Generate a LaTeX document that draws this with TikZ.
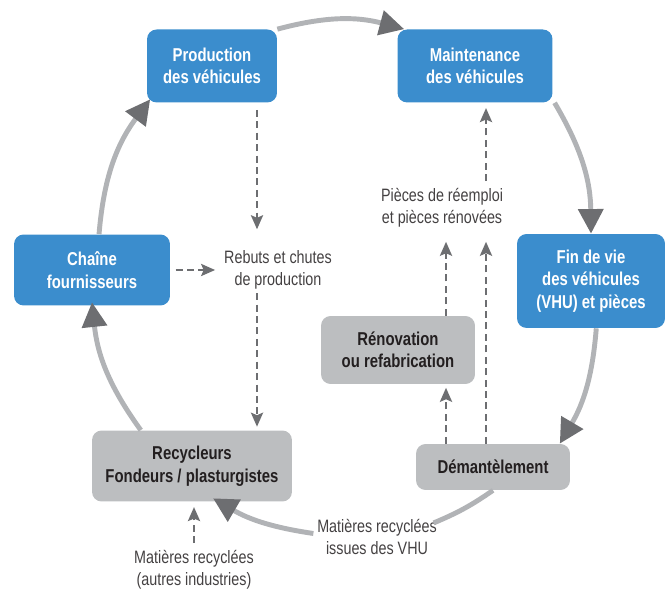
\documentclass[tikz,border=0pt]{standalone}
\usepackage{fontspec}
\setmainfont{Liberation Sans}[FakeStretch=0.8]
\usetikzlibrary{arrows.meta}

\definecolor{vhublue}{HTML}{3B8DCD}
\definecolor{vhugray}{HTML}{BCBEC0}
\definecolor{ringgray}{HTML}{B1B3B6}
\definecolor{tipgray}{HTML}{6D6E71}
\definecolor{inkdark}{HTML}{231F20}

\begin{document}
\begin{tikzpicture}[
    x=0.02cm, y=-0.02cm,
    bluebox/.style={rectangle, fill=vhublue, rounded corners=5.5pt, align=center, text=white, font=\bfseries\fontsize{10.6}{12.8}\selectfont, inner sep=0pt},
    graybox/.style={rectangle, fill=vhugray, rounded corners=5.5pt, align=center, text=inkdark, font=\bfseries\fontsize{10.6}{12.8}\selectfont, inner sep=0pt},
    note/.style={align=center, text=inkdark!85, font=\fontsize{10.2}{12.5}\selectfont, inner sep=2pt},
    cycle/.style={draw=ringgray, line width=2.8pt, -{Triangle[length=14pt, width=14pt, color=tipgray]}},
    ring/.style={draw=ringgray, line width=2.8pt},
    dasharrow/.style={draw=tipgray, line width=0.8pt, dash pattern=on 4pt off 2.5pt, -{Stealth[length=8pt, width=7pt, inset=1.5pt, color=tipgray]}}
]
\useasboundingbox (0,0) rectangle (665,590);

% Boxes on the cycle
\node[bluebox, minimum width=2.6cm, minimum height=1.46cm] (prod) at (212,66) {Production\\des véhicules};
\node[bluebox, minimum width=3.1cm, minimum height=1.46cm] (maint) at (475,66) {Maintenance\\des véhicules};
\node[bluebox, minimum width=2.96cm, minimum height=1.88cm] (fin) at (591,281) {Fin de vie\\des véhicules\\(VHU) et pièces};
\node[graybox, minimum width=3.08cm, minimum height=0.92cm] (demant) at (493,467) {Démantèlement};
\node[graybox, minimum width=4.0cm, minimum height=1.42cm] (recy) at (192,466) {Recycleurs\\Fondeurs / plasturgistes};
\node[bluebox, minimum width=3.12cm, minimum height=1.42cm] (chaine) at (92,270) {Chaîne\\fournisseurs};

% Inner box and texts
\node[graybox, minimum width=3.08cm, minimum height=1.36cm] (renov) at (398,350) {Rénovation\\ou refabrication};
\node[note] (rebuts) at (278,270) {Rebuts et chutes\\de production};
\node[note] (pieces) at (442,208) {Pièces de réemploi\\et pièces rénovées};
\node[note] (vhu) at (377,537) {Matières recyclées\\issues des VHU};
\node[note] (autres) at (194,570) {Matières recyclées\\(autres industries)};

\coordinate (colA) at (257,0);
\coordinate (colL) at (446,0);
\coordinate (colR) at (486,0);

% Cycle
\draw[cycle] (prod.north east) to[bend left=15] ([xshift=4pt]maint.north west);
\draw[cycle] ([xshift=1pt]maint.south east) to[bend left=15] (fin.north);
\draw[cycle] ([xshift=3pt]fin.south) to[bend left=13] ([xshift=-6pt]demant.north east);
\draw[ring] (demant.south) to[bend left=6] ([xshift=-4pt, yshift=8pt]vhu.east);
\draw[cycle] ([yshift=2pt]vhu.west) to[bend left=11] ([xshift=12pt, yshift=2pt]recy.south);
\draw[cycle] (recy.145) to[bend left=15] ([yshift=2pt]chaine.south);
\draw[cycle] ([xshift=4pt]chaine.north) to[bend left=16] ([xshift=2pt, yshift=2pt]prod.south west);

% Flows
\draw[dasharrow, shorten <=4pt, shorten >=10pt] (prod.south -| colA) -- (rebuts.north -| colA);
\draw[dasharrow, shorten >=2pt] (rebuts.south -| colA) -- (recy.north -| colA);
\draw[dasharrow, shorten <=3pt, shorten >=3pt] (chaine.east) -- (rebuts.west);
\draw[dasharrow, shorten <=2pt, shorten >=3pt] (pieces.north -| colR) -- (maint.south -| colR);
\draw[dasharrow, shorten >=6pt] (renov.north -| colL) -- (pieces.south -| colL);
\draw[dasharrow, shorten >=6pt] (demant.north -| colR) -- (pieces.south -| colR);
\draw[dasharrow, shorten >=2pt] (demant.north -| colL) -- (renov.south -| colL);
\draw[dasharrow, shorten <=2pt, shorten >=3pt] (autres.north) -- (autres.north |- recy.south);

\end{tikzpicture}
\end{document}
